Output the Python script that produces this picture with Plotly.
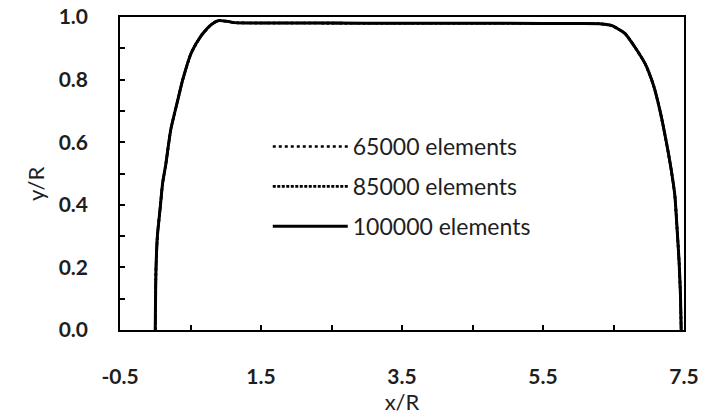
import plotly.graph_objects as go

# Profile y/R versus x/R (the three meshes overlap)
x_r = [0.0, 0.01, 0.03, 0.07, 0.105, 0.15, 0.22, 0.32, 0.39, 0.51, 0.65, 0.79, 0.89,
       1.03, 1.12, 2.0, 3.0, 4.0, 5.0, 6.0, 6.33, 6.47, 6.66, 6.80, 6.95, 7.07,
       7.16, 7.25, 7.32, 7.37, 7.40, 7.43, 7.45, 7.46]
y_65000 = [0.0, 0.19, 0.30, 0.39, 0.47, 0.53, 0.64, 0.735, 0.80, 0.885, 0.94, 0.975, 0.988,
           0.986, 0.982, 0.981, 0.980, 0.980, 0.980, 0.979, 0.978, 0.973, 0.948, 0.905, 0.85,
           0.78, 0.70, 0.60, 0.51, 0.43, 0.33, 0.22, 0.11, 0.0]
y_85000 = list(y_65000)
y_100000 = list(y_65000)

series_names = ["65000 elements", "85000 elements", "100000 elements"]
series_values = [y_65000, y_85000, y_100000]
dashes = ["dot", "3px,1.5px", "solid"]
widths = [2.6, 2.6, 3.0]

x_tick_vals = [-0.5, 1.5, 3.5, 5.5, 7.5]
y_tick_vals = [0.0, 0.2, 0.4, 0.6, 0.8, 1.0]

FONT = "Lato"
TXT = "#1e1e1e"

fig = go.Figure()
for i, (name, ys) in enumerate(zip(series_names, series_values)):
    fig.add_trace(go.Scatter(
        x=x_r, y=ys, mode="lines", name=name, legendgroup=f"g{i}",
        line=dict(color="black", width=widths[i], dash=dashes[i],
                  shape="spline", smoothing=0.6),
    ))

axis_common = dict(
    showline=True, linecolor="black", linewidth=1.6, mirror=True,
    showgrid=False, zeroline=False, automargin=False,
    ticks="inside", ticklen=5, tickwidth=1.5, tickcolor="black",
    tickfont=dict(family=FONT, size=21, color=TXT, weight="bold"),
)

fig.update_xaxes(
    range=[-0.5, 7.5], tickmode="array", tickvals=x_tick_vals,
    ticktext=[f"{v:.1f}" for v in x_tick_vals],
    minor=dict(dtick=1, tick0=0.5, ticks="inside", ticklen=5, tickwidth=1.5, tickcolor="black"),
    ticklabelstandoff=27,
    title=dict(text="x/R", font=dict(family=FONT, size=22, color=TXT), standoff=7),
    **axis_common,
)
fig.update_yaxes(
    range=[0, 1.0], tickmode="array", tickvals=y_tick_vals,
    ticktext=[f"{v:.1f}" for v in y_tick_vals],
    minor=dict(dtick=0.1, ticks="inside", ticklen=5, tickwidth=1.5, tickcolor="black"),
    ticklabelstandoff=26,
    **axis_common,
)

fig.add_annotation(
    text="y/R", xref="paper", yref="paper", x=-0.151, y=0.466,
    textangle=-90, showarrow=False, xanchor="center", yanchor="middle",
    font=dict(family=FONT, size=22, color=TXT),
)

fig.update_layout(
    width=702, height=417,
    margin=dict(l=120, r=18, t=17, b=87, autoexpand=False),
    paper_bgcolor="white", plot_bgcolor="white",
    showlegend=True,
    legend=dict(
        x=0.262, y=0.655, xanchor="left", yanchor="top",
        bgcolor="rgba(0,0,0,0)", borderwidth=0,
        font=dict(family=FONT, size=23, color=TXT),
        itemwidth=75, tracegroupgap=7,
    ),
)

fig.write_html("out.html")
